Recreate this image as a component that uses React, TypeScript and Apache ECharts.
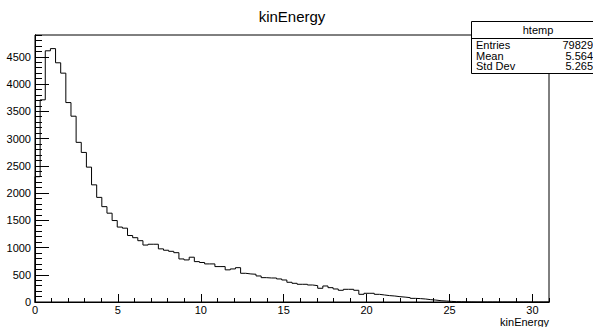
import React, { useEffect, useRef } from "react";
import * as echarts from "echarts";

const X_MIN = 0;
const X_MAX = 31;
const N_BINS = 100;
const Y_MAX = 4900;

const counts: number[] = [
  2300, 3710, 4610, 4650, 4390, 4200, 3660, 3410, 2930, 2745,
  2475, 2150, 1920, 1750, 1630, 1495, 1375, 1355, 1220, 1180,
  1125, 1045, 1060, 1060, 975, 950, 930, 905, 790, 772,
  822, 741, 725, 699, 699, 650, 650, 590, 607, 630,
  527, 515, 509, 478, 447, 441, 440, 423, 404, 362,
  343, 325, 325, 312, 300, 252, 294, 263, 239, 215,
  233, 233, 215, 141, 160, 160, 141, 129, 117, 110,
  98, 90, 80, 67, 62, 55, 43, 35, 24, 18,
  12, 6, 4, 2, 1, 0, 0, 0, 0, 0,
  0, 0, 0, 0, 0, 0, 0, 0, 0, 0,
];

const titleText = "kinEnergy";
const xTitle = "kinEnergy";
const statsName = "htemp";
const statsLabels = ["Entries", "Mean", "Std Dev"];
const statsValues = ["79829", "5.564", "5.265"];

const FONT = "'Liberation Sans', Arial, Helvetica, sans-serif";

export default function App() {
  const ref = useRef<HTMLDivElement>(null);
  useEffect(() => {
    if (!ref.current) return;
    const chart = echarts.init(ref.current, undefined, { renderer: "svg" });
    const bw = (X_MAX - X_MIN) / N_BINS;
    const data: number[][] = [[X_MIN, 0]];
    counts.forEach((c, i) => data.push([X_MIN + i * bw, c]));
    data.push([X_MAX, counts[counts.length - 1]]);

    const gl = 35, gt = 35, gw = 514, gh = 267;
    const bx = 471.5, by = 21.5, bwid = 134, bh = 52;
    const rowY = [45, 55.5, 66];

    const txt = (x: number, y: number, text: string, size: number, align: string, z = 102) => ({
      type: "text", x, y, z,
      style: { text, font: `${size}px ${FONT}`, fill: "#000", textAlign: align, textVerticalAlign: "middle", lineHeight: 10 },
    });

    const graphics: any[] = [
      { type: "text", x: gl + gw / 2, y: 16, style: { text: titleText, font: `15px ${FONT}`, fill: "#000", textAlign: "center", textVerticalAlign: "middle" } },
      { type: "text", x: gl + gw, y: 321.5, style: { text: xTitle, font: `11px ${FONT}`, fill: "#000", textAlign: "right", textVerticalAlign: "middle" } },
      { type: "rect", shape: { x: bx, y: by, width: bwid, height: bh }, style: { fill: "#fff", stroke: "#000", lineWidth: 1 }, z: 100 },
      { type: "line", shape: { x1: bx, y1: 38.5, x2: bx + bwid, y2: 38.5 }, style: { stroke: "#000", lineWidth: 1 }, z: 101 },
      txt(538, 30, statsName, 11, "center"),
    ];
    statsLabels.forEach((l, i) => {
      graphics.push(txt(476, rowY[i], l, 11, "left"));
      graphics.push(txt(593, rowY[i], statsValues[i], 11, "right"));
    });

    const axisCommon = {
      type: "value" as const,
      axisLine: { show: true, lineStyle: { color: "#000", width: 1 } },
      splitLine: { show: false },
    };
    const plain = (v: number) => String(v);

    chart.setOption({
      animation: false,
      backgroundColor: "#fff",
      grid: { left: gl, top: gt, width: gw, height: gh, show: true, borderColor: "#000", borderWidth: 1, backgroundColor: "transparent" },
      xAxis: [
        {
          ...axisCommon, min: X_MIN, max: X_MAX, interval: 5, position: "bottom",
          axisTick: { show: true, inside: true, length: 8, lineStyle: { color: "#000" } },
          axisLabel: { show: true, showMaxLabel: false, color: "#000", fontSize: 11, fontFamily: FONT, margin: 2, formatter: plain },
        },
        {
          ...axisCommon, min: X_MIN, max: X_MAX, interval: 1, position: "bottom", offset: 0,
          axisTick: { show: true, inside: true, length: 4, lineStyle: { color: "#000" } },
          axisLabel: { show: false },
        },
      ],
      yAxis: [
        {
          ...axisCommon, min: 0, max: Y_MAX, interval: 500, position: "left",
          axisTick: { show: true, inside: true, length: 14, lineStyle: { color: "#000" } },
          axisLabel: { show: true, showMaxLabel: false, color: "#000", fontSize: 11, fontFamily: FONT, margin: 4, formatter: plain },
        },
        {
          ...axisCommon, min: 0, max: Y_MAX, interval: 100, position: "left", offset: 0,
          axisTick: { show: true, inside: true, length: 7, lineStyle: { color: "#000" } },
          axisLabel: { show: false },
        },
      ],
      series: [
        {
          type: "line", step: "end", data, xAxisIndex: 0, yAxisIndex: 0,
          symbol: "none", lineStyle: { color: "#000", width: 1 }, z: 5,
        },
      ],
      graphic: graphics,
    });
    return () => chart.dispose();
  }, []);
  return <div ref={ref} style={{ position: "absolute", left: 0, top: 0, width: 593, height: 327 }} />;
}
